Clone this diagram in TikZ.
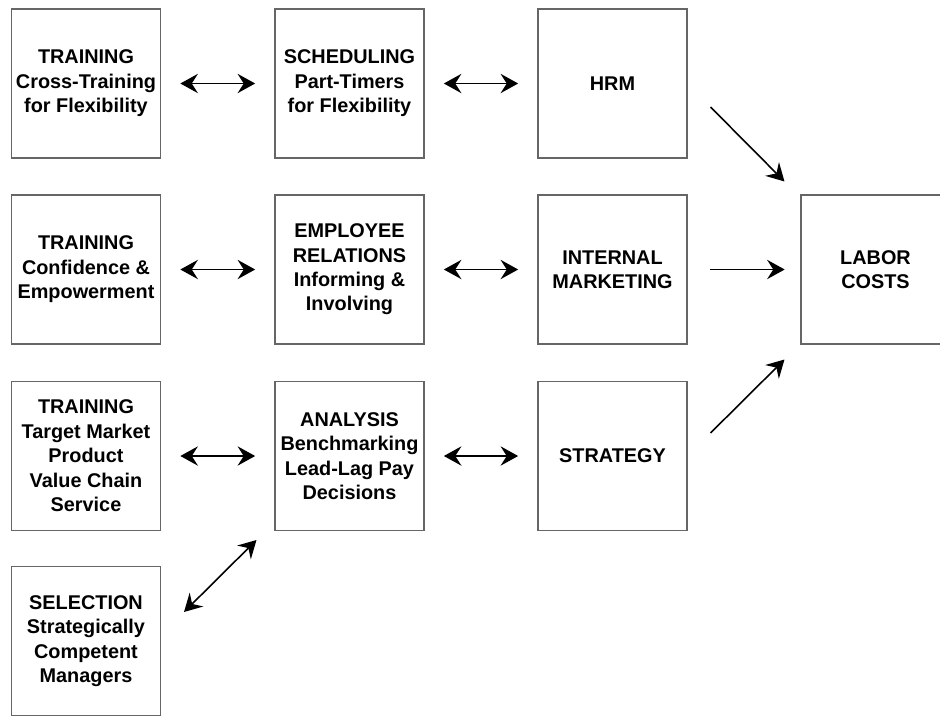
\documentclass[tikz,border=0pt]{standalone}
\usepackage{fontspec}
\setmainfont{Liberation Sans}
\usepackage{tikz}
\usetikzlibrary{arrows.meta}

\tikzset{
    block/.style = {draw=black!60, line width=0.6pt, minimum width=2.98cm, minimum height=2.98cm, inner sep=1pt, align=center, font=\fontsize{11.3}{13.9}\selectfont\bfseries},
    bigTip/.tip = {Stealth[length=10pt, width=11pt, inset=3.5pt]},
    link/.style = {line width=0.9pt, bigTip-bigTip, shorten <=11pt, shorten >=11pt},
    flow/.style = {line width=0.9pt, -bigTip}
}

\begin{document}
\begin{tikzpicture}[x=0.02cm, y=-0.02cm]
    \useasboundingbox (0,0) rectangle (940,717);
    \def \colA {86}
    \def \colB {349.5}
    \def \colC {612.5}
    \def \colD {875.5}
    \def \rowA {83.5}
    \def \rowB {269.5}
    \def \rowC {456}
    \def \rowD {641}
    % Training column
    \node[block] (crossTraining) at (\colA, \rowA) {TRAINING\\Cross-Training\\for Flexibility};
    \node[block] (confidence) at (\colA, \rowB) {TRAINING\\Confidence \&\\Empowerment};
    \node[block] (targetMarket) at (\colA, \rowC) {TRAINING\\Target Market\\Product\\Value Chain\\Service};
    \node[block] (selection) at (\colA, \rowD) {SELECTION\\Strategically\\Competent\\Managers};
    % Middle column
    \node[block] (scheduling) at (\colB, \rowA) {SCHEDULING\\Part-Timers\\for Flexibility};
    \node[block] (relations) at (\colB, \rowB) {EMPLOYEE\\RELATIONS\\Informing \&\\Involving};
    \node[block] (analysis) at (\colB, \rowC) {ANALYSIS\\Benchmarking\\Lead-Lag Pay\\Decisions};
    % Functions
    \node[block] (hrm) at (\colC, \rowA) {HRM};
    \node[block] (internal) at (\colC, \rowB) {INTERNAL\\MARKETING};
    \node[block] (strategy) at (\colC, \rowC) {STRATEGY};
    % Outcome
    \node[block] (labor) at (\colD, \rowB) {LABOR\\COSTS};
    % Two-way links
    \draw[link] (crossTraining) -- (scheduling);
    \draw[link] (scheduling) -- (hrm);
    \draw[link] (confidence) -- (relations);
    \draw[link] (relations) -- (internal);
    \draw[link] (targetMarket) -- (analysis);
    \draw[link] (analysis) -- (strategy);
    \draw[link, shorten <=0pt, shorten >=0pt] ([shift={(23,46)}]selection.north east) -- ([shift={(-18,9)}]analysis.south west);
    % Into labor costs
    \draw[flow] ([shift={(23,23.5)}]hrm.east) -- ([shift={(-16,-13)}]labor.north west);
    \draw[flow, shorten <=13pt, shorten >=9pt] (internal) -- (labor);
    \draw[flow] ([shift={(23,-23)}]strategy.east) -- ([shift={(-16,15)}]labor.south west);
\end{tikzpicture}
\end{document}
